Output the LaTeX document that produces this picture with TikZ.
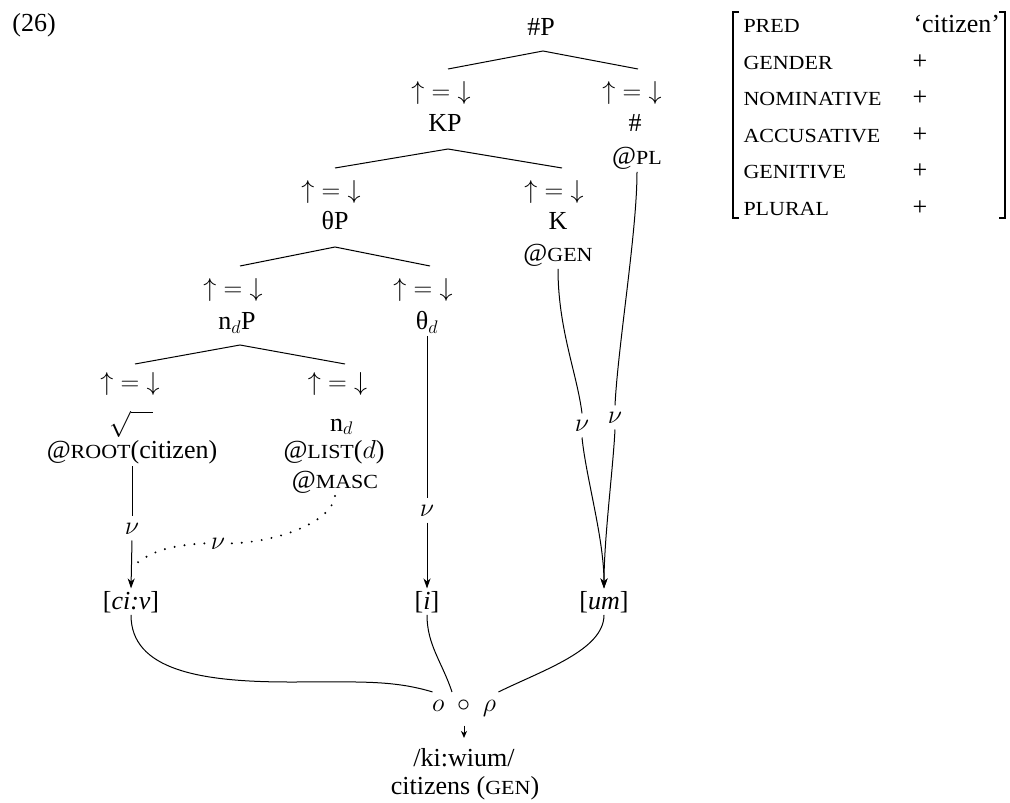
\RequirePackage{fix-cm}
\documentclass[tikz,border=0pt]{standalone}
\usepackage{fontspec}
\setmainfont{Liberation Serif}
\newfontfamily\scfake[FakeStretch=1.1]{Liberation Serif}
\newcommand{\fsc}[1]{{\scfake\fontsize{20}{22}\selectfont #1}}
\newcommand{\upeqdown}{${\uparrow}={\downarrow}$}
\usetikzlibrary{arrows.meta,calc}
\begin{document}
\begin{tikzpicture}[x=1pt,y=-1pt,line width=1pt,
  every node/.style={inner sep=2pt,anchor=base,font=\fontsize{26}{30}\selectfont},
  nulbl/.style={inner sep=6pt},
  feat/.style={anchor=base west,inner sep=0pt},
  arr/.style={-{Stealth[length=10pt,width=7pt,inset=3pt]}},
  smallarr/.style={-{Stealth[length=7pt,width=6pt,inset=2pt]}},
  dotline/.style={line width=2.2pt,line cap=round,dash pattern=on 0pt off 10pt},
  brk/.style={line width=1.6pt}]
\useasboundingbox (0,0) rectangle (1010,803);
% example number
\node (ex) at (34,31) {(26)};
% level 0
\node (hp) at (541,35) {\#P};
\coordinate (b1) at (543,51); \coordinate (b1l) at (448,69); \coordinate (b1r) at (638,69);
\draw (b1l) -- (b1) -- (b1r);
% level 1
\node (u1l) at (441,99.5) {\upeqdown};
\node (u1r) at (632,99.5) {\upeqdown};
\node (kp) at (445,131.5) {KP};
\node (hs) at (635,131.5) {\#};
\node (pl) at (637,164.5) {@\fsc{PL}};
\coordinate (b2) at (448,149); \coordinate (b2l) at (335,168); \coordinate (b2r) at (562,168);
\draw (b2l) -- (b2) -- (b2r);
% level 2
\node (u2l) at (331,198.5) {\upeqdown};
\node (u2r) at (554,198.5) {\upeqdown};
\node (tp) at (335,229.5) {θP};
\node (k) at (558,229.5) {K};
\node (gen) at (558,261.5) {@\fsc{GEN}};
\coordinate (b3) at (335,247); \coordinate (b3l) at (240,266); \coordinate (b3r) at (430,266);
\draw (b3l) -- (b3) -- (b3r);
% level 3
\node (u3l) at (233,296.5) {\upeqdown};
\node (u3r) at (423,296.5) {\upeqdown};
\node (ndp) at (237,329.5) {n$_d$P};
\node (thd) at (427,329.5) {θ$_d$};
\coordinate (b4) at (240,345); \coordinate (b4l) at (135,364); \coordinate (b4r) at (345,364);
\draw (b4l) -- (b4) -- (b4r);
% level 4
\node (u4l) at (130,390.5) {\upeqdown};
\node (u4r) at (337.5,390.5) {\upeqdown};
\node (sq) at (131,431) {$\sqrt{\vphantom{x}\hspace{22pt}}$};
\node (nd) at (341.5,431) {n$_d$};
\node (root) at (132,458) {@\fsc{ROOT}(citizen)};
\node (list) at (334,458) {@\fsc{LIST}($d$)};
\node (masc) at (335,488.5) {@\fsc{MASC}};
% nu labels
\node[nulbl] (nu1) at (132,534) {$\nu$};
\node[nulbl] (nu2) at (427,516) {$\nu$};
\node[nulbl] (nugen) at (582,431) {$\nu$};
\node[nulbl] (nupl) at (615,423) {$\nu$};
\node[nulbl] (nudot) at (218,549) {$\nu$};
% exponents
\node (civ) at (131,609) {[\textit{ci:v}]};
\node (iv) at (427,609) {[\textit{i}]};
\node (um) at (604,609) {[\textit{um}]};
% composition
\node (comp) at (464,711) {$o\hspace{7pt}\circ\hspace{7pt}\rho$};
\node (word) at (464,766.5) {/ki:wium/};
\node (gloss) at (465,794.5) {citizens (\fsc{GEN})};
% connectors
\draw (root.south) -- (nu1.north);
\draw[arr] (nu1.south) -- (civ.north);
\draw (thd.south) -- (nu2.north);
\draw[arr] (nu2.south) -- (iv.north);
\draw (gen.south) .. controls +(0,60) and +(-5,-40) .. (nugen.north);
\draw[arr] (nugen.south) .. controls +(4,40) and +(0,-50) .. (um.north);
\draw (pl.south) .. controls +(0,60) and +(3,-60) .. (nupl.north);
\draw[arr] (nupl.south) .. controls +(-2,40) and +(0,-50) .. (um.north);
\coordinate (dotend) at (133,566);
\draw[dotline] (masc.south) .. controls +(-3,25) and +(50,-2) .. (nudot.east);
\draw[dotline] (nudot.west) .. controls +(-40,2) and +(15,-12) .. (dotend);
\coordinate (cL) at ($(comp.north west)+(3,-5)$);
\coordinate (cM) at ($(comp.north)+(-12,-5)$);
\coordinate (cR) at ($(comp.north east)+(0,-5)$);
\coordinate (flat) at (290,682);
\draw (civ.south) .. controls +(0,55) and +(-90,0) .. (flat) .. controls +(70,0) and +(-40,-12) .. (cL);
\draw (iv.south) .. controls +(0,30) and +(-10,-30) .. (cM);
\draw (um.south) .. controls +(0,35) and +(45,-22) .. (cR);
\draw[smallarr] ($(comp.south)+(0,7)$) -- ($(word.north)+(0,-8)$);
% AVM
\draw[brk] (739,12) -- (733,12) -- (733,218) -- (739,218);
\draw[brk] (999,12) -- (1005,12) -- (1005,218) -- (999,218);
\node[feat] (f1) at (743,32.5) {\fsc{PRED}};
\node[feat] (f2) at (743,69) {\fsc{GENDER}};
\node[feat] (f3) at (743,105.5) {\fsc{NOMINATIVE}};
\node[feat] (f4) at (743,142) {\fsc{ACCUSATIVE}};
\node[feat] (f5) at (743,178.5) {\fsc{GENITIVE}};
\node[feat] (f6) at (743,215) {\fsc{PLURAL}};
\node[feat] (v1) at (913,32.5) {`citizen'};
\node[inner sep=0pt] (v2) at (920,69) {+};
\node[inner sep=0pt] (v3) at (920,105.5) {+};
\node[inner sep=0pt] (v4) at (920,142) {+};
\node[inner sep=0pt] (v5) at (920,178.5) {+};
\node[inner sep=0pt] (v6) at (920,215) {+};
\end{tikzpicture}
\end{document}
